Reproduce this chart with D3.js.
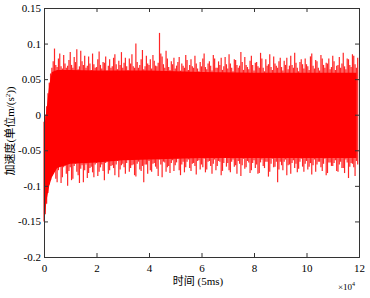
<!DOCTYPE html>
<html>
<head>
<meta charset="utf-8">
<script src="https://cdn.jsdelivr.net/npm/d3@7"></script>
<style>
  body { margin: 0; background: #fff; }
</style>
</head>
<body>
<div id="chart"></div>
<script>
// sample positions (x 10^4), step 0.1, second set offset by half a step
const xStart = 0, xStep = 0.1;
// upper peaks per sample
const hiVals = [
  -0.01, 0.012, 0.045, 0.066, 0.093, 0.067, 0.086, 0.065, 0.072, 0.069,
  0.088, 0.066, 0.074, 0.064, 0.09, 0.07, 0.066, 0.082, 0.063, 0.071,
  0.067, 0.089, 0.065, 0.073, 0.062, 0.078, 0.068, 0.085, 0.064, 0.07,
  0.066, 0.08, 0.063, 0.072, 0.068, 0.1, 0.066, 0.078, 0.064, 0.083,
  0.07, 0.065, 0.076, 0.068, 0.115, 0.082, 0.066, 0.079, 0.063, 0.071,
  0.065, 0.074, 0.062, 0.069, 0.084, 0.063, 0.078, 0.066, 0.072, 0.061,
  0.068, 0.086, 0.064, 0.075, 0.062, 0.079, 0.066, 0.07, 0.063, 0.081,
  0.065, 0.072, 0.061, 0.077, 0.066, 0.088, 0.063, 0.07, 0.064, 0.083,
  0.062, 0.074, 0.066, 0.079, 0.061, 0.069, 0.085, 0.063, 0.072, 0.066,
  0.08, 0.062, 0.07, 0.064, 0.083, 0.066, 0.073, 0.061, 0.078, 0.065,
  0.071, 0.063, 0.086, 0.065, 0.075, 0.062, 0.079, 0.066, 0.072, 0.064,
  0.083, 0.063, 0.07, 0.066, 0.087, 0.064, 0.078, 0.067, 0.083, 0.066
];
const hiVals2 = [
  0.0, 0.03, 0.058, 0.075, 0.07, 0.079, 0.068, 0.084, 0.066, 0.077,
  0.07, 0.081, 0.092, 0.068, 0.075, 0.083, 0.069, 0.072, 0.086, 0.066,
  0.078, 0.07, 0.074, 0.082, 0.069, 0.066, 0.08, 0.071, 0.076, 0.088,
  0.073, 0.068, 0.079, 0.085, 0.066, 0.074, 0.07, 0.091, 0.068, 0.072,
  0.078, 0.084, 0.069, 0.073, 0.086, 0.071, 0.09, 0.067, 0.075, 0.08,
  0.069, 0.081, 0.072, 0.066, 0.077, 0.07, 0.068, 0.083, 0.065, 0.074,
  0.079, 0.067, 0.072, 0.069, 0.084, 0.066, 0.075, 0.08, 0.068, 0.071,
  0.085, 0.066, 0.078, 0.07, 0.069, 0.074, 0.081, 0.067, 0.076, 0.07,
  0.073, 0.068, 0.087, 0.066, 0.078, 0.071, 0.067, 0.082, 0.069, 0.075,
  0.067, 0.076, 0.08, 0.069, 0.07, 0.087, 0.066, 0.074, 0.071, 0.079,
  0.068, 0.082, 0.069, 0.077, 0.066, 0.084, 0.07, 0.073, 0.079, 0.067,
  0.075, 0.069, 0.081, 0.072, 0.068, 0.079, 0.07, 0.085, 0.071, 0.08
];
// lower troughs per sample
const loVals = [
  -0.15, -0.125, -0.098, -0.085, -0.075, -0.095, -0.07, -0.088, -0.072, -0.1,
  -0.074, -0.09, -0.069, -0.085, -0.076, -0.095, -0.07, -0.082, -0.073, -0.088,
  -0.068, -0.08, -0.07, -0.092, -0.066, -0.078, -0.071, -0.085, -0.065, -0.077,
  -0.069, -0.083, -0.064, -0.075, -0.07, -0.087, -0.066, -0.079, -0.095, -0.07,
  -0.065, -0.08, -0.068, -0.076, -0.063, -0.088, -0.067, -0.074, -0.082, -0.064,
  -0.071, -0.062, -0.085, -0.066, -0.074, -0.063, -0.079, -0.068, -0.084, -0.064,
  -0.07, -0.062, -0.077, -0.065, -0.083, -0.063, -0.072, -0.066, -0.079, -0.061,
  -0.068, -0.081, -0.063, -0.071, -0.065, -0.086, -0.062, -0.074, -0.067, -0.078,
  -0.064, -0.07, -0.082, -0.063, -0.075, -0.066, -0.08, -0.062, -0.073, -0.095,
  -0.066, -0.078, -0.063, -0.071, -0.083, -0.064, -0.069, -0.076, -0.062, -0.08,
  -0.065, -0.073, -0.084, -0.063, -0.07, -0.066, -0.079, -0.062, -0.082, -0.067,
  -0.072, -0.064, -0.08, -0.066, -0.075, -0.063, -0.089, -0.068, -0.074, -0.065
];
const loVals2 = [
  -0.14, -0.11, -0.092, -0.08, -0.09, -0.078, -0.096, -0.074, -0.083, -0.079,
  -0.092, -0.072, -0.08, -0.096, -0.071, -0.078, -0.089, -0.075, -0.081, -0.07,
  -0.086, -0.074, -0.079, -0.068, -0.083, -0.072, -0.075, -0.07, -0.088, -0.071,
  -0.074, -0.068, -0.08, -0.071, -0.085, -0.069, -0.077, -0.072, -0.07, -0.083,
  -0.078, -0.069, -0.073, -0.086, -0.07, -0.066, -0.08, -0.072, -0.068, -0.079,
  -0.067, -0.078, -0.07, -0.081, -0.066, -0.075, -0.069, -0.072, -0.065, -0.077,
  -0.074, -0.081, -0.066, -0.072, -0.069, -0.078, -0.065, -0.085, -0.068, -0.073,
  -0.078, -0.066, -0.073, -0.083, -0.069, -0.071, -0.076, -0.065, -0.082, -0.068,
  -0.075, -0.083, -0.067, -0.072, -0.066, -0.087, -0.069, -0.074, -0.066, -0.077,
  -0.071, -0.066, -0.085, -0.07, -0.068, -0.075, -0.081, -0.066, -0.073, -0.069,
  -0.077, -0.068, -0.071, -0.08, -0.066, -0.074, -0.069, -0.085, -0.067, -0.072,
  -0.068, -0.079, -0.07, -0.075, -0.082, -0.067, -0.073, -0.069, -0.086, -0.07
];
// edge of the dense (solid) part of the band
const coreX  = [0, 0.1, 0.2, 0.3, 0.5, 1, 2, 3, 4, 6, 8, 10, 11.9];
const coreHi = [-0.02, 0.008, 0.042, 0.06, 0.063, 0.063, 0.062, 0.062, 0.062, 0.06, 0.059, 0.059, 0.059];
const coreLo = [-0.15, -0.12, -0.1, -0.088, -0.075, -0.069, -0.067, -0.064, -0.063, -0.061, -0.061, -0.061, -0.061];

const xTicks = [0, 2, 4, 6, 8, 10, 12];
const yTicks = [-0.2, -0.15, -0.1, -0.05, 0, 0.05, 0.1, 0.15];

const width = 370, height = 298;
const margin = {top: 8, right: 11, bottom: 41, left: 44};
const innerWidth = width - margin.left - margin.right;
const innerHeight = height - margin.top - margin.bottom;

const serif = "'Liberation Serif', 'Times New Roman', serif";
const cjk = "'Liberation Serif', 'Noto Sans CJK SC', serif";

const svg = d3.select("#chart").append("svg")
  .attr("width", width)
  .attr("height", height);

const chart = svg.append("g")
  .attr("transform", `translate(${margin.left}, ${margin.top})`);

const x = d3.scaleLinear().domain([0, 12]).range([0, innerWidth]);
const y = d3.scaleLinear().domain([-0.2, 0.15]).range([innerHeight, 0]);

const samples = hiVals.map((h, i) => ({t: xStart + i * xStep, hi: h, lo: loVals[i]}))
  .concat(hiVals2.map((h, i) => ({t: xStart + (i + 0.5) * xStep, hi: h, lo: loVals2[i]})));
const core = coreX.map((t, i) => ({t: t, hi: coreHi[i], lo: coreLo[i]}));

// dense core of the signal
chart.append("path")
  .datum(core)
  .attr("fill", "#ff0000")
  .attr("d", d3.area()
    .x(d => x(d.t))
    .y0(d => y(d.lo))
    .y1(d => y(d.hi)));

// spikes for each sample
chart.selectAll(".spike")
  .data(samples)
  .enter()
  .append("line")
  .attr("class", "spike")
  .attr("x1", d => x(d.t)).attr("x2", d => x(d.t))
  .attr("y1", d => y(d.lo)).attr("y2", d => y(d.hi))
  .attr("stroke", "#ff0000")
  .attr("stroke-opacity", 0.85)
  .attr("stroke-width", 1.2);

const axisColor = "#333";
const tl = 4;

// axes with inward ticks
const gx = chart.append("g")
  .attr("transform", `translate(0, ${innerHeight})`)
  .call(d3.axisBottom(x).tickValues(xTicks).tickSize(-tl).tickPadding(7).tickFormat(d3.format("d")));
const gxt = chart.append("g")
  .call(d3.axisTop(x).tickValues(xTicks).tickSize(-tl));
const gy = chart.append("g")
  .call(d3.axisLeft(y).tickValues(yTicks).tickSize(-tl).tickPadding(3).tickFormat(d => d === 0 ? "0" : String(+d.toFixed(2))));
const gyr = chart.append("g")
  .attr("transform", `translate(${innerWidth}, 0)`)
  .call(d3.axisRight(y).tickValues(yTicks).tickSize(-tl));
gxt.selectAll("text").remove();
gyr.selectAll("text").remove();

[gx, gxt, gy, gyr].forEach(g => {
  g.attr("font-family", serif).attr("font-size", 11);
  g.select(".domain").attr("stroke", axisColor);
  g.selectAll(".tick line").attr("stroke", axisColor);
  g.selectAll("text").attr("fill", "#000");
});

// labels
svg.append("text")
  .attr("x", 198)
  .attr("y", 285)
  .attr("text-anchor", "middle")
  .attr("font-family", cjk)
  .attr("font-size", 11)
  .text("时间 (5ms)");

const xl = svg.append("text")
  .attr("x", 338)
  .attr("y", 290)
  .attr("font-family", serif)
  .attr("font-size", 9);
xl.append("tspan").text("×10");
xl.append("tspan").attr("dy", -4).attr("font-size", 6).text("4");

const yl = svg.append("text")
  .attr("transform", "translate(14, 131) rotate(-90)")
  .attr("text-anchor", "middle")
  .attr("font-family", cjk)
  .attr("font-size", 11);
yl.append("tspan").text("加速度(单位m/(s");
yl.append("tspan").attr("dy", -4).attr("font-size", 7).text("2");
yl.append("tspan").attr("dy", 4).text("))");
</script>
</body>
</html>
